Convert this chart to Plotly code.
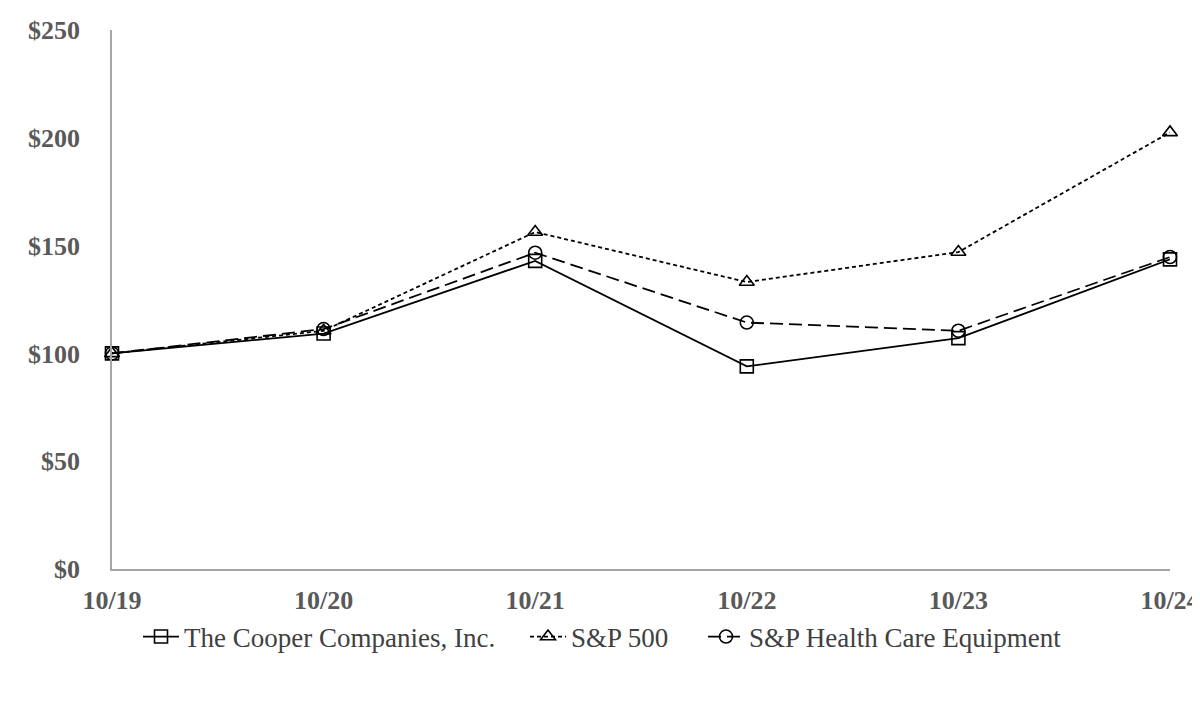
import plotly.graph_objects as go

years = ["10/19", "10/20", "10/21", "10/22", "10/23", "10/24"]
cooper = [100, 109.2, 142.9, 94.0, 107.1, 143.6]
sp500 = [100, 110.5, 156.3, 133.1, 147.0, 202.5]
hc_equip = [100, 111.3, 146.7, 114.3, 110.5, 144.7]

names = ["The Cooper Companies, Inc.", "S&P 500", "S&P Health Care Equipment"]
series = [cooper, sp500, hc_equip]
dashes = ["solid", "4px,3px", "13px,6px"]
symbols = ["square-open", "triangle-up-open", "circle-open"]

# page has an 8px body margin, so the figure is shifted by 8px in the window;
# keep it short enough that no vertical scrollbar eats the right edge
W, H = 1192, 680
legend_ids = ["legend", "legend2", "legend3"]
legend_x = [130, 517, 695]

fig = go.Figure()
for nm, vals, d, s, lg in zip(names, series, dashes, symbols, legend_ids):
    fig.add_trace(go.Scatter(
        x=years, y=vals, name=nm, mode="lines+markers", legend=lg,
        line=dict(color="black", width=1.8, dash=d),
        marker=dict(symbol=s, size=13, color="black", line=dict(width=1.6)),
        cliponaxis=False,
    ))

tick_font = dict(size=26, color="#595959", family="Liberation Serif", weight="bold")

legends = {}
for lg, lx in zip(legend_ids, legend_x):
    legends[lg] = dict(
        orientation="h", xref="container", x=lx / W, xanchor="left",
        yref="container", y=1 - 629 / H, yanchor="middle",
        font=dict(size=27, color="#404040"), itemwidth=36,
        bgcolor="rgba(0,0,0,0)",
    )

fig.update_layout(
    width=W, height=H,
    margin=dict(l=104, r=30, t=22, b=H - 561),
    plot_bgcolor="white", paper_bgcolor="white",
    font=dict(family="Liberation Serif, Times New Roman, serif", color="#595959"),
    showlegend=True,
    **legends,
)
fig.update_xaxes(
    type="category", range=[0, 5], showgrid=False, automargin=False,
    showline=True, linecolor="#A6A6A6", linewidth=1.5,
    ticks="", ticklabelstandoff=7, tickfont=tick_font,
)
fig.update_yaxes(
    range=[0, 250], dtick=50, tickprefix="$", showgrid=False, zeroline=False,
    automargin=False,
    showline=True, linecolor="#A6A6A6", linewidth=1.5,
    ticks="", ticklabelstandoff=25, tickfont=tick_font,
)

fig.write_html("out.html")
